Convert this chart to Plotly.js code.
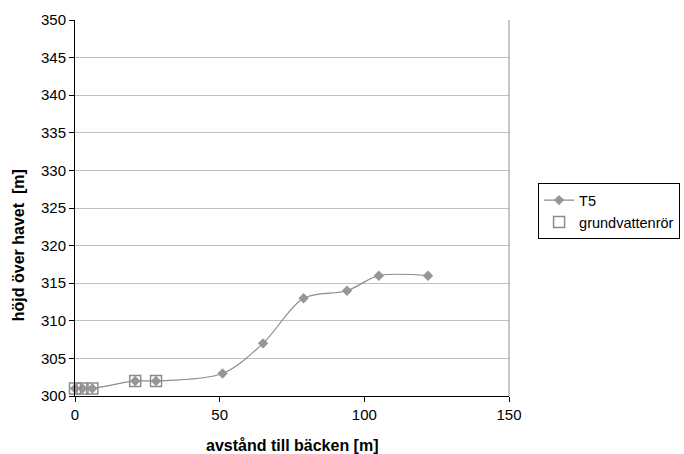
<!DOCTYPE html>
<html>
<head>
<meta charset="utf-8">
<script src="https://cdn.plot.ly/plotly-3.0.1.min.js"></script>
<style>html,body{margin:0;padding:0;background:#fff;}#chart{width:684px;height:454px;}</style>
</head>
<body>
<div id="chart"></div>
<script>
// Profile T5
const t5Distance = [0, 2.6, 6, 20.8, 28, 51, 65, 79, 94, 105, 122];
const t5Height   = [301, 301, 301, 302, 302, 303, 307, 313, 314, 316, 316];
// Groundwater pipes
const pipeDistance = [0, 2.6, 6, 20.8, 28];
const pipeHeight   = [301, 301, 301, 302, 302];
const seriesNames = ["T5", "grundvattenrör"];
const xTitle = "avstånd till bäcken [m]";
const yTitle = "höjd över havet  [m]";

const FONT = "Liberation Sans, Arial, sans-serif";

const traces = [
  {
    x: t5Distance, y: t5Height, name: seriesNames[0],
    type: "scatter", mode: "lines+markers",
    line: {color: "#8c8c8c", width: 1.2, shape: "spline", smoothing: 0.9},
    marker: {symbol: "diamond", size: 8, color: "#969696", line: {width: 0}},
    cliponaxis: false
  },
  {
    x: pipeDistance, y: pipeHeight, name: seriesNames[1],
    type: "scatter", mode: "markers",
    marker: {symbol: "square-open", size: 11, color: "#8c8c8c", line: {width: 1.5, color: "#8c8c8c"}},
    cliponaxis: false
  }
];

const layout = {
  width: 684, height: 454,
  margin: {l: 74.5, r: 175, t: 19.5, b: 58, pad: 0, autoexpand: false},
  paper_bgcolor: "#ffffff", plot_bgcolor: "#ffffff",
  font: {family: FONT, size: 15, color: "#000"},
  showlegend: true,
  legend: {
    x: 1.067, xanchor: "left", y: 0.566, yanchor: "top",
    bordercolor: "#000", borderwidth: 1, bgcolor: "#fff",
    font: {family: FONT, size: 14.5, color: "#000"},
    tracegroupgap: 0
  },
  xaxis: {
    range: [0, 150], tickvals: [0, 50, 100, 150],
    showgrid: false, zeroline: false,
    showline: true, linecolor: "#000", linewidth: 1,
    ticks: "outside", ticklen: 5, tickcolor: "#000",
    tickfont: {family: FONT, size: 15, color: "#000"},
    mirror: false
  },
  yaxis: {
    range: [300, 350], dtick: 5, tick0: 300,
    showgrid: true, gridcolor: "#bfbfbf", gridwidth: 1,
    zeroline: false,
    showline: true, linecolor: "#000", linewidth: 1,
    ticks: "outside", ticklen: 5, tickcolor: "#000",
    tickfont: {family: FONT, size: 15, color: "#000"}
  },
  shapes: [
    {type: "line", xref: "paper", yref: "paper", x0: 1, x1: 1, y0: 0, y1: 1,
     line: {color: "#909090", width: 1}}
  ],
  annotations: [
    {text: "<b>" + xTitle + "</b>", xref: "paper", yref: "paper",
     x: 0.5, y: -0.132, xanchor: "center", yanchor: "middle", showarrow: false,
     font: {family: FONT, size: 16, color: "#000"}},
    {text: "<b>" + yTitle + "</b>", xref: "paper", yref: "paper",
     x: -0.13, y: 0.4, xanchor: "center", yanchor: "middle", showarrow: false,
     textangle: -90, font: {family: FONT, size: 16, color: "#000"}}
  ]
};

Plotly.newPlot("chart", traces, layout, {displayModeBar: false, staticPlot: true});
</script>
</body>
</html>
